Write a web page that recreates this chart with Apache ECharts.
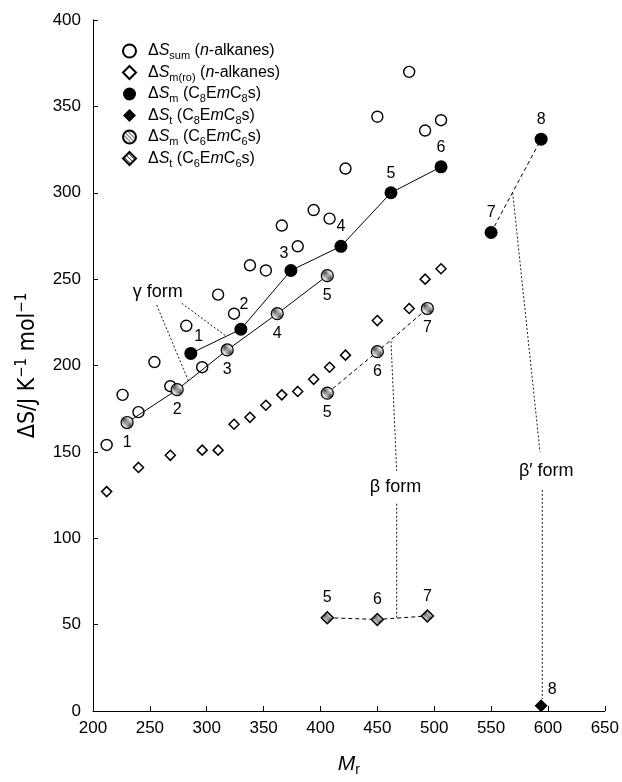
<!DOCTYPE html>
<html>
<head>
<meta charset="utf-8">
<script src="https://cdn.jsdelivr.net/npm/echarts@6/dist/echarts.min.js"></script>
<style>
html, body { margin: 0; padding: 0; background: #fff; }
#echarts_main { width: 622px; height: 782px; }
</style>
</head>
<body>
<div id="echarts_main"></div>
<script>
// n-alkanes: ΔSsum
var alkaneMr = [212, 226, 240, 254, 268, 282, 296, 310, 324, 338, 352, 366, 380, 394, 408, 422, 450, 478, 492, 506];
var alkaneSsum = [154, 183, 173, 202, 188, 223, 199, 241, 230, 258, 255, 281, 269, 290, 285, 314, 344, 370, 336, 342];
// n-alkanes: ΔSm(ro)
var roMr = [212, 240, 268, 296, 310, 324, 338, 352, 366, 380, 394, 408, 422, 450, 478, 492, 506];
var roSm = [127, 141, 148, 151, 151, 166, 170, 177, 183, 185, 192, 199, 206, 226, 233, 250, 256];
// C8EmC8s
var c8m = [1, 2, 3, 4, 5, 6, 7, 8];
var c8Mr = [286, 330, 374, 418, 462, 506, 550, 594];
var c8Sm = [207, 221, 255, 269, 300, 315, 277, 331];
var c8StM = [8];
var c8StMr = [594];
var c8St = [3];
// C6EmC6s (gamma form m = 1..5, beta form m = 5..7)
var c6GammaM = [1, 2, 3, 4, 5];
var c6GammaMr = [230, 274, 318, 362, 406];
var c6GammaSm = [167, 186, 209, 230, 252];
var c6BetaM = [5, 6, 7];
var c6BetaMr = [406, 450, 494];
var c6BetaSm = [184, 208, 233];
var c6StM = [5, 6, 7];
var c6StMr = [406, 450, 494];
var c6St = [54, 53, 55];
// annotation leaders, in axis units
var gammaLeaders = [[[256, 235], [284, 191]], [[278, 236], [317, 217]]];
var betaLeaders = [[[462, 214], [467, 139]], [[467, 120], [467, 54]]];
var betaPrimeLeaders = [[[569, 300], [593, 150]], [[595, 128], [595, 7]]];
var formLabels = [['γ form', 257, 242.5], ['β form', 466, 129.5], ['β′ form', 598.5, 139]];

var FONT = '"Liberation Sans", Arial, sans-serif';
var NARROW = '"Liberation Sans Narrow", "DejaVu Sans Condensed", "Liberation Sans", sans-serif';

function hatch() {
  var c = document.createElement('canvas');
  c.width = 4; c.height = 4;
  var g = c.getContext('2d');
  g.fillStyle = '#f2f2f2';
  g.fillRect(0, 0, 4, 4);
  g.strokeStyle = '#444';
  g.lineWidth = 1;
  g.beginPath();
  g.moveTo(-1, -1); g.lineTo(5, 5);
  g.moveTo(-1, 3); g.lineTo(1, 5);
  g.moveTo(3, -1); g.lineTo(5, 1);
  g.stroke();
  return { image: c, repeat: 'repeat' };
}
var hatchFill = hatch();

function pts(xs, ys, ms) {
  return xs.map(function (x, i) { return ms ? [x, ys[i], ms[i]] : [x, ys[i]]; });
}

var labelStyle = {
  show: true, color: '#000', fontSize: 16, fontFamily: FONT, textBorderWidth: 0,
  formatter: function (p) { return p.value[2]; }
};

var c8LabelOffset = { 1: [8, 3], 2: [3, -5], 3: [-7, 3] };
var c8Data = pts(c8Mr, c8Sm, c8m).map(function (v) {
  var o = c8LabelOffset[v[2]];
  return o ? { value: v, label: { offset: o } } : { value: v };
});
var c6Data = pts(c6GammaMr, c6GammaSm, c6GammaM).concat(pts(c6BetaMr, c6BetaSm, c6BetaM));

var legendText = {
  sum: '{d|Δ}{i|S}{s|sum} ({i|n}-alkanes)',
  ro: '{d|Δ}{i|S}{s|m(ro)} ({i|n}-alkanes)',
  c8m: '{d|Δ}{i|S}{s|m} (C{s|8}E{i|m}C{s|8}s)',
  c8t: '{d|Δ}{i|S}{s|t} (C{s|8}E{i|m}C{s|8}s)',
  c6m: '{d|Δ}{i|S}{s|m} (C{s|6}E{i|m}C{s|6}s)',
  c6t: '{d|Δ}{i|S}{s|t} (C{s|6}E{i|m}C{s|6}s)'
};

function lineSeries(data, type, width) {
  return {
    type: 'line', data: data, symbol: 'none', silent: true, z: 2,
    lineStyle: { color: '#000', width: width || 1, type: type || 'solid' }
  };
}

var leaderSeries = gammaLeaders.concat(betaLeaders, betaPrimeLeaders).map(function (seg) {
  return lineSeries(seg, [2, 2], 0.9);
});

var myChart = echarts.init(document.getElementById('echarts_main'));
myChart.setOption({
  animation: false,
  backgroundColor: '#fff',
  textStyle: { fontFamily: FONT, color: '#000' },
  grid: { left: 93, right: 17, top: 20, bottom: 55 },
  legend: {
    orient: 'vertical',
    left: 117,
    top: 38,
    itemWidth: 13,
    itemHeight: 13,
    itemGap: 3,
    selectedMode: false,
    data: ['sum', 'ro', 'c8m', 'c8t', 'c6m', 'c6t'],
    formatter: function (name) { return legendText[name]; },
    textStyle: {
      fontSize: 16, color: '#000', fontFamily: FONT, padding: [0, 0, 0, 7],
      rich: {
        d: { fontSize: 16, fontFamily: FONT },
        i: { fontSize: 16, fontStyle: 'italic', fontFamily: FONT },
        s: { fontSize: 11, fontFamily: FONT, padding: [10, 0, 0, 0] }
      }
    }
  },
  xAxis: {
    type: 'value', min: 200, max: 650, interval: 50,
    name: '{i|M}{s|r}', nameLocation: 'middle', nameGap: 40,
    nameTextStyle: {
      rich: {
        i: { fontSize: 21, fontStyle: 'italic', fontFamily: FONT },
        s: { fontSize: 14, fontFamily: FONT, padding: [12, 0, 0, 0] }
      }
    },
    axisLine: { lineStyle: { color: '#000', width: 1 } },
    axisTick: { inside: true, length: 5, lineStyle: { color: '#000' } },
    axisLabel: { fontSize: 17, color: '#000', margin: 9, fontFamily: FONT },
    splitLine: { show: false }
  },
  yAxis: {
    type: 'value', min: 0, max: 400, interval: 50,
    name: '{n|ΔS/J K}{p|−1}{n| mol}{p|−1}', nameLocation: 'middle', nameRotate: 90, nameGap: 51,
    nameTextStyle: {
      rich: {
        n: { fontSize: 23, fontFamily: NARROW },
        p: { fontSize: 15, fontFamily: NARROW, padding: [0, 0, 12, 0] }
      }
    },
    axisLine: { show: true, lineStyle: { color: '#000', width: 1 } },
    axisTick: { show: true, inside: true, length: 5, lineStyle: { color: '#000' } },
    axisLabel: { fontSize: 17, color: '#000', margin: 12, fontFamily: FONT },
    splitLine: { show: false }
  },
  series: [
    lineSeries(pts(c8Mr.slice(0, 6), c8Sm.slice(0, 6))),
    lineSeries(pts(c8Mr.slice(6), c8Sm.slice(6)), [4, 3]),
    lineSeries(pts(c6GammaMr, c6GammaSm)),
    lineSeries(pts(c6BetaMr, c6BetaSm), [4, 3]),
    lineSeries(pts(c6StMr, c6St), [4, 3])
  ].concat(leaderSeries, [
    {
      type: 'scatter', data: formLabels.map(function (f) { return { value: [f[1], f[2]], name: f[0] }; }),
      symbolSize: 1, itemStyle: { color: '#fff', opacity: 0 }, silent: true, z: 3,
      label: {
        show: true, position: 'inside', color: '#000', opacity: 1, textBorderWidth: 0,
        fontSize: 18, fontFamily: FONT, formatter: '{b}'
      }
    },
    {
      name: 'sum', type: 'scatter', data: pts(alkaneMr, alkaneSsum), symbol: 'circle', symbolSize: 11, z: 4,
      itemStyle: { color: 'rgba(255,255,255,0)', borderColor: '#000', borderWidth: 1.4, opacity: 1 }
    },
    {
      name: 'ro', type: 'scatter', data: pts(roMr, roSm), symbol: 'diamond', symbolSize: 10, z: 4,
      itemStyle: { color: 'rgba(255,255,255,0)', borderColor: '#000', borderWidth: 1.5, opacity: 1 }
    },
    {
      name: 'c8m', type: 'scatter', data: c8Data, symbol: 'circle', symbolSize: 13, z: 5,
      itemStyle: { color: '#000', opacity: 1 },
      label: Object.assign({ position: 'top' }, labelStyle)
    },
    {
      name: 'c8t', type: 'scatter', data: pts(c8StMr, c8St, c8StM), symbol: 'diamond', symbolSize: 13, z: 5,
      itemStyle: { color: '#000', opacity: 1 },
      label: Object.assign({ position: 'top', offset: [11, 3] }, labelStyle)
    },
    {
      name: 'c6m', type: 'scatter', data: c6Data, symbol: 'circle', symbolSize: 12, z: 5,
      itemStyle: { color: hatchFill, borderColor: '#000', borderWidth: 1.2, opacity: 1 },
      label: Object.assign({ position: 'bottom' }, labelStyle)
    },
    {
      name: 'c6t', type: 'scatter', data: pts(c6StMr, c6St, c6StM), symbol: 'diamond', symbolSize: 12, z: 5,
      itemStyle: { color: hatchFill, borderColor: '#000', borderWidth: 1.5, opacity: 1 },
      label: Object.assign({ position: 'top' }, labelStyle)
    }
  ])
});
</script>
</body>
</html>
